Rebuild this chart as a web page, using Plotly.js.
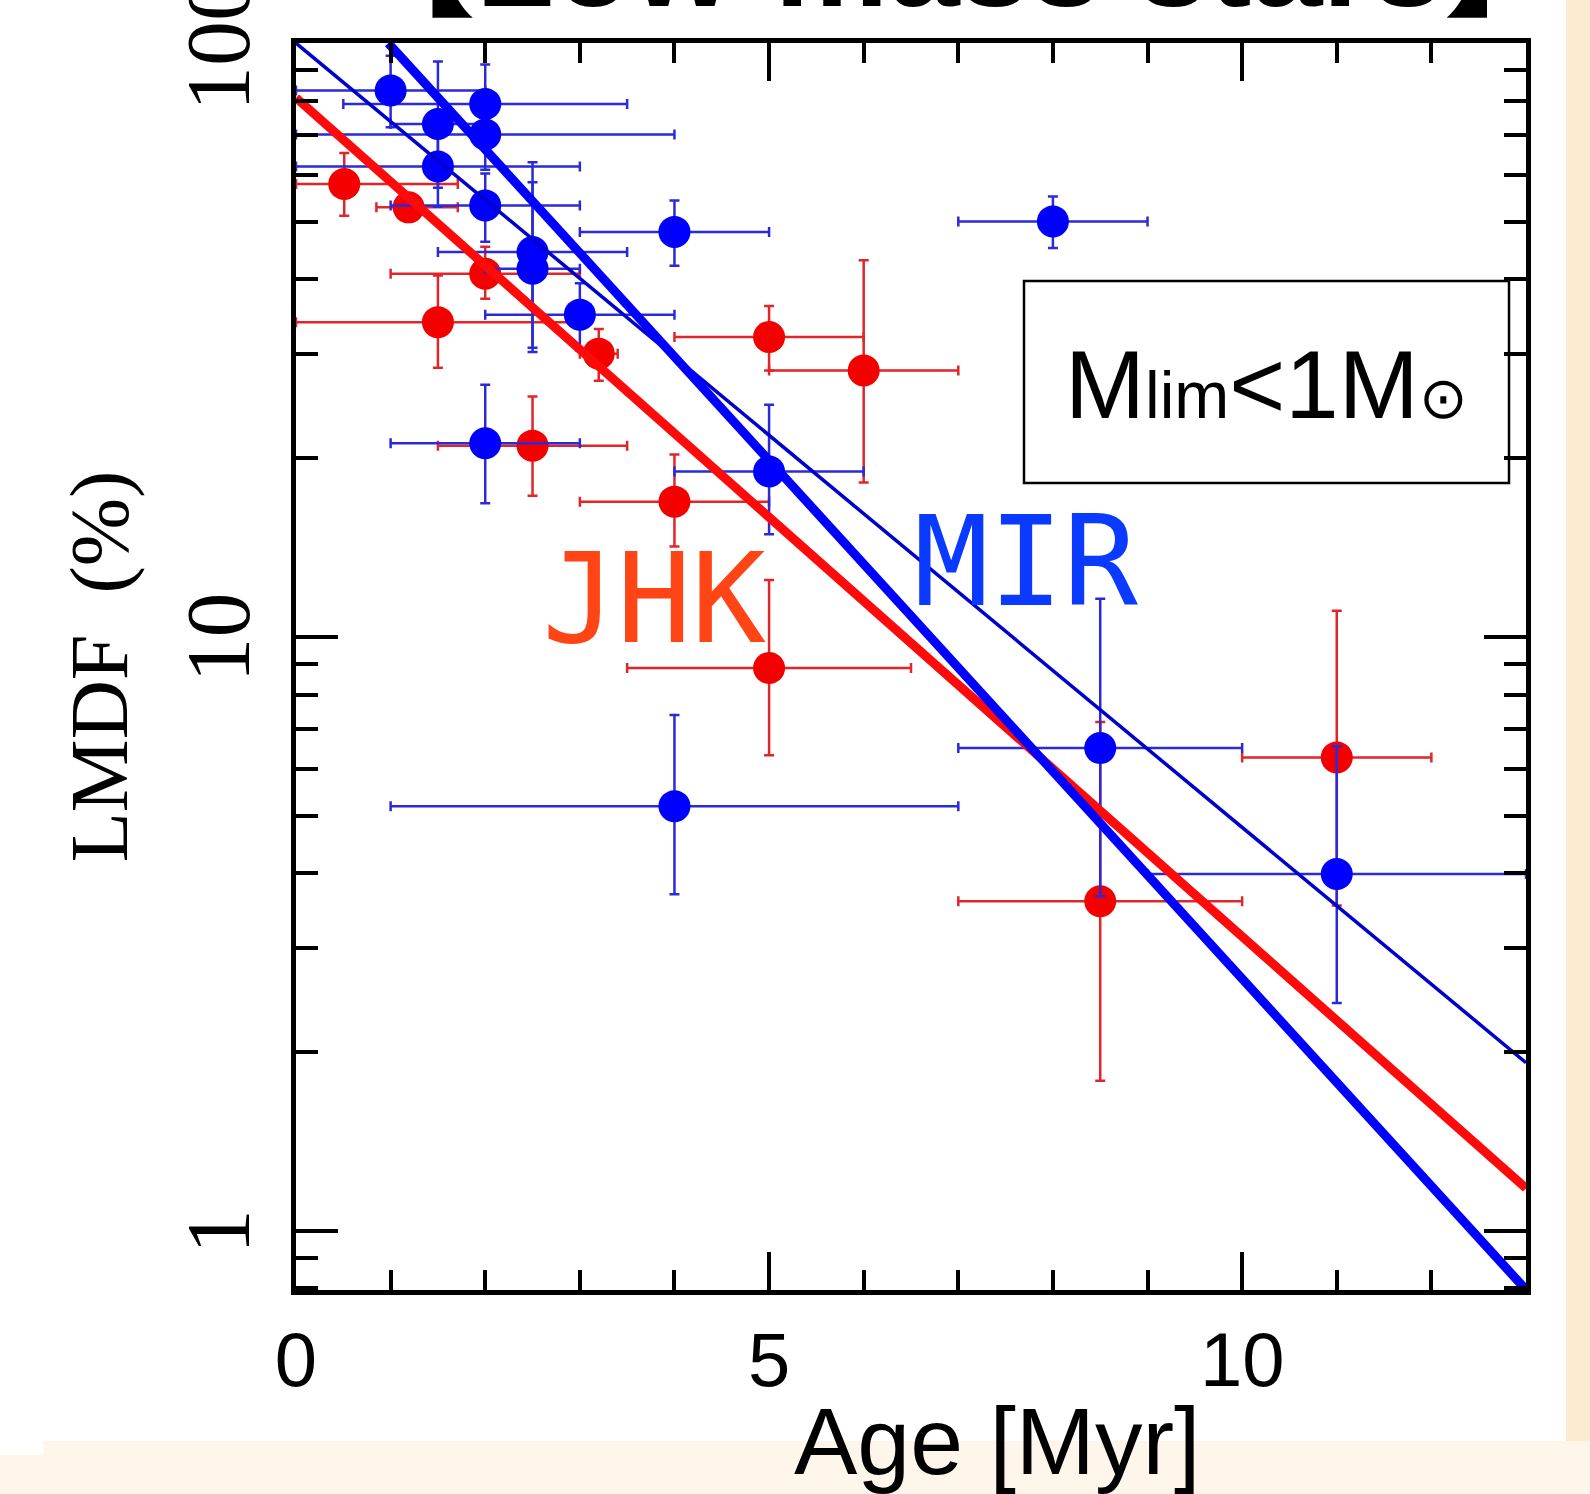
<!DOCTYPE html>
<html><head><meta charset="utf-8">
<script src="https://cdn.plot.ly/plotly-3.0.1.min.js"></script>
<style>html,body{margin:0;padding:0;background:#fff;}#chart{width:1590px;height:1494px;}</style>
</head><body><div id="chart"></div>
<script>
// ---------- data ----------
// JHK (red) disk fractions
const jhkAge        = [0.51, 1.19, 2.0, 1.5, 3.2, 2.5, 4.0, 5.0, 5.0, 6.0, 8.5, 11.0];
const jhkFrac       = [57.9, 52.9, 40.9, 33.9, 30.0, 21.0, 16.9, 8.87, 32.0, 28.1, 3.59, 6.27];
const jhkAgeErrLo   = [0.51, 0.34, 1.0, 1.5, 0.2, 1.0, 1.0, 1.5, 1.0, 1.0, 1.5, 1.0];
const jhkAgeErrHi   = [1.2, 0.52, 1.0, 1.5, 0.2, 1.0, 1.0, 1.5, 1.0, 1.0, 1.5, 1.0];
const jhkFracErrHi  = [7.4, 2.5, 4.5, 6.7, 3.0, 4.4, 3.4, 3.6, 4.1, 15.0, 3.6, 4.8];
const jhkFracErrLo  = [6.7, 2.5, 3.8, 5.5, 3.0, 3.7, 2.7, 2.55, 3.9, 9.9, 1.8, 2.74];

// MIR (blue) disk fractions
const mirAge        = [1.0, 2.0, 1.5, 2.0, 1.5, 2.0, 2.5, 2.5, 3.0, 4.0, 8.0, 5.0, 2.0, 4.0, 8.5, 11.0];
const mirFrac       = [83.2, 79.0, 73.1, 70.2, 62.0, 53.3, 44.5, 41.7, 34.9, 48.1, 50.1, 19.0, 21.2, 5.19, 6.50, 3.99];
const mirAgeErrLo   = [1.0, 1.5, 0.5, 2.0, 1.5, 1.0, 1.0, 0.5, 1.0, 1.0, 1.0, 1.0, 1.0, 3.0, 1.5, 2.0];
const mirAgeErrHi   = [1.0, 1.5, 0.5, 2.0, 1.5, 1.0, 1.0, 0.5, 1.0, 1.0, 1.0, 1.0, 1.0, 3.0, 1.5, 2.0];
const mirFracErrHi  = [12, 13, 20, 9, 9, 7, 18.5, 16.6, 4.5, 6.2, 5.1, 5.6, 5.4, 2.2, 5.1, 2.56];
const mirFracErrLo  = [11, 11, 16, 9, 9, 7, 14.3, 11.0, 4.5, 5.9, 4.9, 4.1, 4.4, 1.5, 2.84, 1.57];

// fitted exponential decays (end points of straight lines on the log plot)
const jhkFitAge  = [0, 13];     const jhkFitFrac  = [80.9, 1.18];
const mirFitAge  = [0.975, 13]; const mirFitFrac  = [100, 0.796];
const mirFit2Age = [0, 13];     const mirFit2Frac = [100, 1.92];

// axis ticks
const ageTicks = [0, 5, 10];
const ageTickText = ['0', '5', '10'];
const ageMinorTicks = [1, 2, 3, 4, 6, 7, 8, 9, 11, 12];
const fracTicks = [1, 10, 100];
const fracTickText = ['1', '10', '100'];
const fracMinorTicks = [0.8, 0.9, 2, 3, 4, 5, 6, 7, 8, 9, 20, 30, 40, 50, 60, 70, 80, 90];

// ---------- layout helpers (pixel -> paper) ----------
const PL = 296, PT = 43, PW = 1230, PH = 1247;
const px = v => (v - PL) / PW;
const py = v => (PT + PH - v) / PH;

const RED = '#f40000', BLUE = '#0000ff';

function errBar(arr, arrMinus, color) {
  return {type: 'data', symmetric: false, array: arr, arrayminus: arrMinus,
          color: color, thickness: 2.5, width: 5};
}

const traces = [
  {x: jhkAge, y: jhkFrac, mode: 'markers', type: 'scatter',
   marker: {size: 32, color: RED},
   error_x: errBar(jhkAgeErrHi, jhkAgeErrLo, '#e0262a'),
   error_y: errBar(jhkFracErrHi, jhkFracErrLo, '#e0262a')},
  {x: mirAge, y: mirFrac, mode: 'markers', type: 'scatter',
   marker: {size: 32, color: BLUE},
   error_x: errBar(mirAgeErrHi, mirAgeErrLo, '#2a2ad8'),
   error_y: errBar(mirFracErrHi, mirFracErrLo, '#2a2ad8')},
  {x: mirFit2Age, y: mirFit2Frac, mode: 'lines', type: 'scatter',
   line: {color: '#0000cc', width: 3.5}},
  {x: jhkFitAge, y: jhkFitFrac, mode: 'lines', type: 'scatter',
   line: {color: '#ff0a0a', width: 9}},
  {x: mirFitAge, y: mirFitFrac, mode: 'lines', type: 'scatter',
   line: {color: BLUE, width: 9}}
];

const axisCommon = {
  showline: true, linecolor: '#000', linewidth: 5, mirror: 'ticks',
  ticks: 'inside', tickcolor: '#000', tickwidth: 4,
  showgrid: false, zeroline: false, tickmode: 'array',
  ticklabeloverflow: 'allow'
};

const layout = {
  width: 1590, height: 1494,
  margin: {l: PL, r: 1590 - PL - PW, t: PT, b: 1494 - PT - PH, pad: 0},
  paper_bgcolor: '#ffffff', plot_bgcolor: '#ffffff',
  showlegend: false, hovermode: false,
  xaxis: Object.assign({}, axisCommon, {
    range: [0, 13], tickvals: ageTicks, ticktext: ageTickText, ticklen: 38,
    tickfont: {family: 'Liberation Sans, Arial, sans-serif', size: 76, color: '#000'},
    ticklabelstandoff: 0,
    minor: {ticks: 'inside', tickmode: 'array', tickvals: ageMinorTicks, ticklen: 20,
            tickwidth: 4, tickcolor: '#000', showgrid: false}
  }),
  yaxis: Object.assign({}, axisCommon, {
    type: 'log', range: [-0.0995, 2.0002], tickvals: fracTicks, ticktext: fracTickText,
    ticklen: 42, tickangle: -90,
    tickfont: {family: 'Liberation Serif, Times New Roman, serif', size: 90, color: '#000'},
    ticklabelstandoff: 6, ticklabelshift: 14,
    minor: {ticks: 'inside', tickmode: 'array', tickvals: fracMinorTicks, ticklen: 22,
            tickwidth: 4, tickcolor: '#000', showgrid: false},
    title: {text: 'LMDF\u00a0\u00a0(%)', standoff: 16,
            font: {family: 'Liberation Serif, Times New Roman, serif', size: 82, color: '#000'}}
  }),
  shapes: [
    {type: 'rect', xref: 'paper', yref: 'paper', layer: 'below',
     x0: px(1566), x1: px(1595), y0: py(1441), y1: py(-5),
     fillcolor: '#fdebd0', line: {width: 0}},
    {type: 'rect', xref: 'paper', yref: 'paper', layer: 'below',
     x0: px(43), x1: px(1595), y0: py(1500), y1: py(1441),
     fillcolor: '#fef6ea', line: {width: 0}},
    {type: 'rect', xref: 'paper', yref: 'paper', layer: 'below',
     x0: px(-5), x1: px(43), y0: py(1500), y1: py(1455),
     fillcolor: '#fef6ea', line: {width: 0}},
    {type: 'rect', xref: 'paper', yref: 'paper', layer: 'above',
     x0: px(1024), x1: px(1509), y0: py(483), y1: py(281),
     fillcolor: 'rgba(0,0,0,0)', line: {color: '#000', width: 2.5}}
  ],
  annotations: [
    {xref: 'paper', yref: 'paper', x: px(960), y: py(-39), xanchor: 'center', yanchor: 'middle',
     text: '<b>【Low-mass stars】</b>', showarrow: false,
     font: {family: 'Liberation Sans, Noto Sans CJK JP, sans-serif', size: 128, color: '#000'}},
    {xref: 'paper', yref: 'paper', x: px(654), y: py(599), xanchor: 'center', yanchor: 'middle',
     text: 'JHK', showarrow: false,
     font: {family: 'DejaVu Sans Mono, monospace', size: 124, color: '#ff4515'}},
    {xref: 'paper', yref: 'paper', x: px(1026), y: py(562), xanchor: 'center', yanchor: 'middle',
     text: 'MIR', showarrow: false,
     font: {family: 'DejaVu Sans Mono, monospace', size: 124, color: '#0a3aff'}},
    {xref: 'paper', yref: 'paper', x: px(1266), y: py(384), xanchor: 'center', yanchor: 'middle',
     text: 'M<span style="font-size:66px">lim</span><1M<span style="font-size:58px">⊙</span>',
     showarrow: false,
     font: {family: 'Liberation Sans, Arial, sans-serif', size: 96, color: '#000'}},
    {xref: 'paper', yref: 'paper', x: px(997), y: py(1441), xanchor: 'center', yanchor: 'middle',
     text: 'Age [Myr]', showarrow: false,
     font: {family: 'Liberation Sans, Arial, sans-serif', size: 95, color: '#000'}}
  ]
};

Plotly.newPlot('chart', traces, layout, {staticPlot: true, displayModeBar: false});
</script></body></html>
